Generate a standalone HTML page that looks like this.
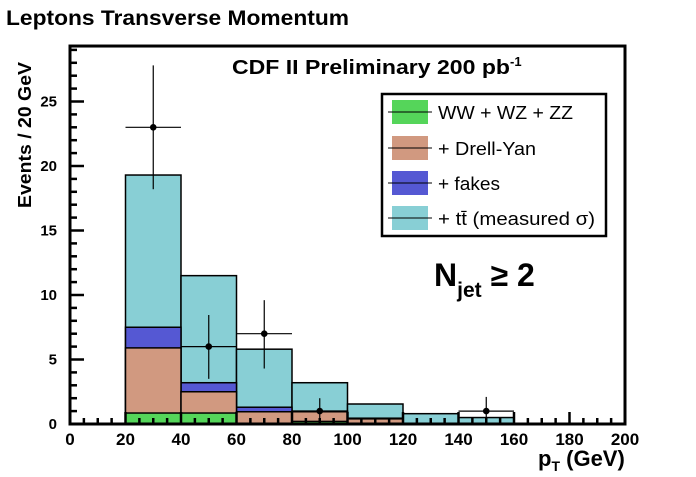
<!DOCTYPE html>
<html><head><meta charset="utf-8"><style>
body{margin:0;background:#fff}
svg text{font-family:"Liberation Sans",Arial,sans-serif}
</style></head><body>
<svg id="c" width="696" height="472" viewBox="0 0 696 472" xmlns="http://www.w3.org/2000/svg">
<text x="6" y="25" font-size="21" font-weight="bold" textLength="343" lengthAdjust="spacingAndGlyphs">Leptons Transverse Momentum</text>
<text x="232" y="74" font-size="20" font-weight="bold"><tspan textLength="278" lengthAdjust="spacingAndGlyphs">CDF II Preliminary  200 pb</tspan><tspan dy="-8" font-size="13">-1</tspan></text>
<g id="plot"></g>
<g id="axes"></g>
<text transform="translate(31,135) rotate(-90)" text-anchor="middle" font-size="18" font-weight="bold" textLength="146" lengthAdjust="spacingAndGlyphs">Events / 20 GeV</text>
<text x="538" y="466" font-size="22" font-weight="bold">p<tspan dy="5" font-size="14">T</tspan><tspan dy="-5"> (GeV)</tspan></text>
<g>
<rect x="382" y="94" width="224" height="142" fill="#fff" stroke="#000" stroke-width="2.5"/>
<g><rect x="392" y="100" width="36" height="24" fill="#55d55a"/><line x1="388" x2="432" y1="112" y2="112" stroke="#000"/><text x="438" y="119" font-size="18" textLength="135" lengthAdjust="spacingAndGlyphs">WW + WZ + ZZ</text></g>
<g><rect x="392" y="136" width="36" height="24" fill="#d19980"/><line x1="388" x2="432" y1="148" y2="148" stroke="#000"/><text x="438" y="155" font-size="18" textLength="98" lengthAdjust="spacingAndGlyphs">+ Drell-Yan</text></g>
<g><rect x="392" y="171" width="36" height="24" fill="#5558d3"/><line x1="388" x2="432" y1="183" y2="183" stroke="#000"/><text x="438" y="190" font-size="18" textLength="62" lengthAdjust="spacingAndGlyphs">+ fakes</text></g>
<g><rect x="392" y="206" width="36" height="24" fill="#88cfd5"/><line x1="388" x2="432" y1="218" y2="218" stroke="#000"/><text x="438" y="225" font-size="18" textLength="157" lengthAdjust="spacingAndGlyphs">+ tt̄ (measured  σ)</text></g>
</g>
<text x="434" y="286" font-size="32" font-weight="bold">N<tspan dy="11" font-size="21">jet</tspan><tspan dy="-11"> ≥ 2</tspan></text>
</svg>
<script>
const binEdges=[20,40,60,80,100,120,140,160];
const diboson=[0.85,0.85,0.05,0.2,0.05,0,0];
const drellYan=[5.9,2.5,0.95,0.95,0.4,0,0];
const fakes=[7.5,3.2,1.3,1.0,0.45,0,0];
const ttbar=[19.3,11.5,5.8,3.2,1.55,0.8,0.5];
const dataX=[30,50,70,90,150];
const dataY=[23,6,7,1,1];
const dataHi=[27.8,8.45,9.6,2.0,2.1];
const dataLo=[18.2,3.5,4.3,0,0];
const xTicks=[0,20,40,60,80,100,120,140,160,180,200];
const yTicks=[0,5,10,15,20,25];
const NS='http://www.w3.org/2000/svg';
const X=v=>70+v*2.775, Y=v=>424-v*12.9;
const YMAX=29.3;
const plot=document.getElementById('plot'), axes=document.getElementById('axes');
function mk(tag,at,par){const e=document.createElementNS(NS,tag);for(const k in at)e.setAttribute(k,at[k]);par.appendChild(e);return e;}
const layers=[[ttbar,'#88cfd5','ttbar'],[fakes,'#5558d3','fakes'],[drellYan,'#d19980','drell-yan'],[diboson,'#55d55a','diboson']];
layers.forEach(([vals,col,nm])=>{
 vals.forEach((v,i)=>{ if(v<=0)return;
  const r=mk('rect',{x:X(binEdges[i]),y:Y(v),width:X(binEdges[i+1])-X(binEdges[i]),height:Y(0)-Y(v),fill:col,stroke:'#000','stroke-width':1.5},plot);
  
  
 });
});
dataX.forEach((x,i)=>{
 const g=mk('g',{},plot);
 
 
 mk('line',{x1:X(x-10),x2:X(x+10),y1:Y(dataY[i]),y2:Y(dataY[i]),stroke:'#000','stroke-width':1.2},g);
 mk('line',{x1:X(x),x2:X(x),y1:Y(dataHi[i]),y2:Y(dataLo[i]),stroke:'#000','stroke-width':1.2},g);
 mk('circle',{cx:X(x),cy:Y(dataY[i]),r:3.3,fill:'#000'},g);
});
mk('rect',{x:70,y:Y(YMAX),width:X(200)-70,height:Y(0)-Y(YMAX),fill:'none',stroke:'#000','stroke-width':3},axes);
for(let v=0;v<=200;v+=5){const big=v%20===0;mk('line',{x1:X(v),x2:X(v),y1:Y(0),y2:Y(0)-(big?12:6),stroke:'#000','stroke-width':2.5},axes);}
for(let v=0;v<=29;v+=1){const big=v%5===0;mk('line',{x1:70,x2:70+(big?14:7),y1:Y(v),y2:Y(v),stroke:'#000','stroke-width':2.5},axes);}
xTicks.forEach(t=>{const e=mk('text',{x:X(t),y:445,'text-anchor':'middle','font-size':17,'font-weight':'bold'},axes);e.textContent=t;
 
 });
yTicks.forEach(t=>{const e=mk('text',{x:57,y:Y(t)+5,'text-anchor':'end','font-size':15,'font-weight':'bold'},axes);e.textContent=t;
 
 });
</script>
</body></html>
